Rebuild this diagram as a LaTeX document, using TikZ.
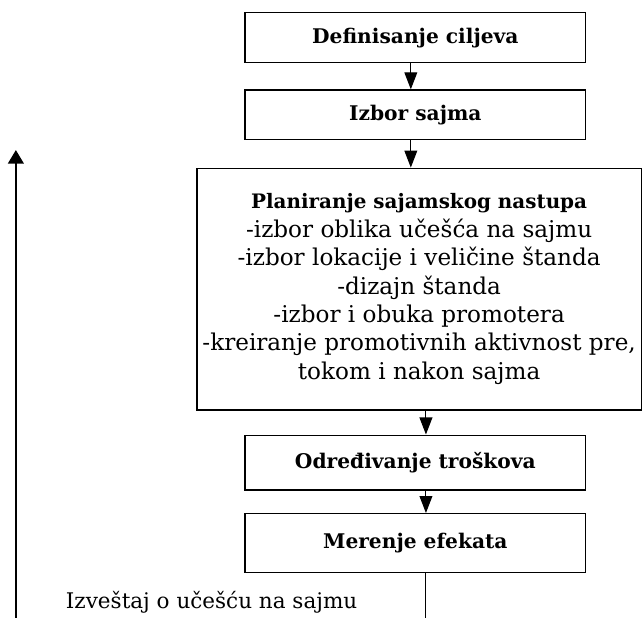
\documentclass[tikz,border=0pt]{standalone}
\usepackage{fontspec}
\setmainfont{DejaVu Serif}
\usepackage{tikz}
\usetikzlibrary{arrows.meta,calc}

\begin{document}
\begin{tikzpicture}[
  stage/.style={draw, line width=0.9pt, minimum width=9.02cm, minimum height=1.32cm, inner sep=0pt, align=center, font=\fontsize{15.2}{21}\selectfont\bfseries},
  planbox/.style={draw, line width=0.9pt, minimum width=11.75cm, minimum height=6.4cm, inner sep=0pt, align=center, font=\fontsize{17.4}{21.4}\selectfont},
  arrow/.style={-{Triangle[length=0.45cm, width=0.34cm]}, line width=0.8pt},
  backarrow/.style={-{Triangle[length=0.36cm, width=0.42cm]}, line width=1.1pt}
]
\useasboundingbox (0,0) rectangle (17.04,-16.35);
\node[stage] (goals) at (10.99,-1.0) {Definisanje ciljeva};
\node[stage] (fair) at (10.99,-3.04) {Izbor sajma};
\node[planbox] (planning) at (11.09,-7.65) {{\fontsize{15}{21.4}\selectfont\bfseries Planiranje sajamskog nastupa}\\-izbor oblika učešća na sajmu\\-izbor lokacije i veličine štanda\\-dizajn štanda\\-izbor i obuka promotera\\-kreiranje promotivnih aktivnost pre,\\tokom i nakon sajma};
\node[stage, minimum height=1.455cm] (costs) at (10.99,-12.24) {Određivanje troškova};
\node[stage, minimum height=1.56cm] (effects) at (10.99,-14.37) {Merenje efekata};
\node[anchor=base, font=\fontsize{16.2}{21}\selectfont] (report) at (5.6,-16.1) {Izveštaj o učešću na sajmu};
\coordinate (down) at (11.27,-16.35);
\coordinate (backfoot) at (0.42,-16.35);
\coordinate (backtop) at (0.42,-3.97);
\draw[arrow] ([xshift=-0.12cm]goals.south) -- ([xshift=-0.12cm]fair.north);
\draw[arrow] ([xshift=-0.12cm]fair.south) -- ([xshift=-0.12cm]fair.south |- planning.north);
\draw[arrow] ([xshift=0.28cm]costs.north |- planning.south) -- ([xshift=0.28cm]costs.north);
\draw[arrow] ([xshift=0.28cm]costs.south) -- ([xshift=0.28cm]effects.north);
\draw[line width=0.8pt] ([xshift=0.28cm]effects.south) -- (down);
\draw[backarrow] (backfoot) -- (backtop);
\end{tikzpicture}
\end{document}
